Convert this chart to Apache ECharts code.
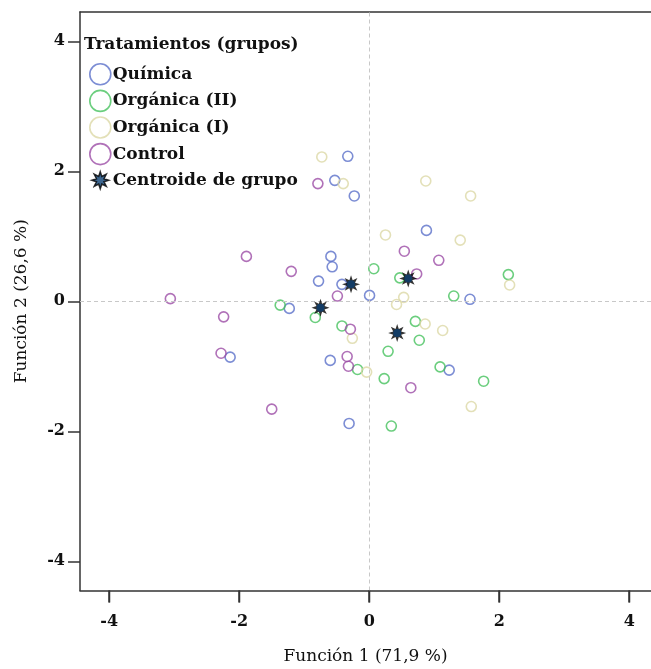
<!DOCTYPE html>
<html>
<head>
<meta charset="utf-8">
<script src="https://cdn.jsdelivr.net/npm/echarts@6/dist/echarts.min.js"></script>
<style>html,body{margin:0;padding:0;background:#fff}#c{width:651px;height:669px}</style>
</head>
<body>
<div id="c"></div>
<script>
const groupNames = ['Química', 'Orgánica (II)', 'Orgánica (I)', 'Control'];
const centroidName = 'Centroide de grupo';
const legendTitle = 'Tratamientos (grupos)';
const xAxisTitle = 'Función 1 (71,9 %)';
const yAxisTitle = 'Función 2 (26,6 %)';
const axisTicks = [-4, -2, 0, 2, 4];

const quimica = [[-0.33,2.23],[-0.53,1.86],[-0.23,1.62],[0.88,1.09],[-0.59,0.69],[-0.57,0.53],[-0.78,0.31],[-0.42,0.26],[0.005,0.09],[-1.23,-0.11],[1.55,0.03],[-0.60,-0.91],[1.23,-1.06],[-2.14,-0.86],[-0.31,-1.88]];
const organica2 = [[0.07,0.50],[-1.37,-0.06],[-0.83,-0.25],[-0.42,-0.38],[0.47,0.36],[2.14,0.41],[1.30,0.08],[0.71,-0.31],[0.77,-0.60],[0.29,-0.77],[-0.18,-1.05],[0.23,-1.19],[1.09,-1.01],[1.76,-1.23],[0.34,-1.92]];
const organica1 = [[-0.73,2.22],[-0.40,1.81],[0.25,1.02],[0.87,1.85],[1.56,1.62],[1.40,0.94],[2.16,0.25],[0.53,0.06],[0.42,-0.05],[0.86,-0.35],[1.13,-0.45],[-0.26,-0.57],[-0.04,-1.09],[1.57,-1.62]];
const control = [[-0.79,1.81],[-1.89,0.69],[-1.20,0.46],[-0.49,0.08],[-3.06,0.04],[-2.24,-0.24],[-0.29,-0.43],[0.54,0.77],[1.07,0.63],[0.73,0.42],[-2.28,-0.80],[-1.50,-1.66],[-0.34,-0.85],[-0.32,-1.00],[0.64,-1.33]];
const centroids = [[-0.28,0.26],[0.43,-0.49],[0.60,0.35],[-0.75,-0.10]];

const groupData = [quimica, organica2, organica1, control];
const colors = ['#5b70c9', '#46c25e', '#dcd8a6', '#9c4ea6'];
const FONT = 'DejaVu Serif';

function starPath(n, r1, r2) {
  let d = '';
  for (let i = 0; i < 2 * n; i++) {
    const r = i % 2 === 0 ? r1 : r2;
    const a = Math.PI * i / n - Math.PI / 2;
    const x = (50 + r * Math.cos(a)).toFixed(2), y = (50 + r * Math.sin(a)).toFixed(2);
    d += (i === 0 ? 'M' : 'L') + x + ' ' + y + ' ';
  }
  return 'path://' + d + 'Z';
}
const STAR = starPath(8, 50, 24);

const series = groupNames.map((n, i) => ({
  name: n, type: 'scatter', data: groupData[i], symbol: 'circle', symbolSize: 10,
  itemStyle: { color: 'rgba(255,255,255,0)', borderColor: colors[i], borderWidth: 1.6 },
  z: 2
}));
series.push({
  name: centroidName, type: 'scatter', data: centroids, symbol: STAR, symbolSize: 18,
  itemStyle: { color: '#000', borderWidth: 0 }, z: 5
});
series.push({
  name: centroidName, type: 'scatter', data: centroids, symbol: 'circle', symbolSize: 8,
  itemStyle: { color: '#0b3f72', borderWidth: 0 }, z: 6
});
series.push({
  type: 'scatter', data: [], silent: true,
  markLine: {
    silent: true, symbol: 'none', label: { show: false },
    lineStyle: { color: '#c8c8c8', type: [4, 3], width: 1 },
    data: [{ xAxis: 0 }, { yAxis: 0 }]
  }, z: 1
});

const XMIN = -4.45, XMAX = 4.335, YMIN = -4.45, YMAX = 4.45;
const ls = () => ({ color: '#333', width: 1.5 });
const labelStyle = () => ({ color: '#111', fontFamily: FONT, fontWeight: 'bold', fontSize: 16,
  customValues: axisTicks.slice() });

const chart = echarts.init(document.getElementById('c'));
chart.setOption({
  animation: false,
  backgroundColor: '#fff',
  grid: { left: 80, top: 12, right: 0, bottom: 78.5, show: false, outerBoundsMode: 'none' },
  title: { text: legendTitle, left: 79, top: 31, textStyle: { fontFamily: FONT, fontWeight: 'bold', fontSize: 17, color: '#111' } },
  legend: [{
    orient: 'vertical', left: 84, top: 58, itemWidth: 21, itemHeight: 21, itemGap: 4,
    textStyle: { fontFamily: FONT, fontWeight: 'bold', fontSize: 17, color: '#111', padding: [0, 0, 0, -3] },
    data: groupNames.map((n, i) => ({ name: n, icon: 'circle', itemStyle: { color: 'rgba(255,255,255,0)', borderColor: colors[i], borderWidth: 1.6 } }))
  }, {
    orient: 'vertical', left: 86, top: 166, itemWidth: 17, itemHeight: 17, itemGap: 5,
    textStyle: { fontFamily: FONT, fontWeight: 'bold', fontSize: 17, color: '#111', padding: [0, 0, 0, -1] },
    data: [{ name: centroidName, icon: STAR, itemStyle: { color: '#0b3f72', borderColor: '#000', borderWidth: 1.5 } }]
  }],
  xAxis: [{
    type: 'value', min: XMIN, max: XMAX, position: 'bottom',
    axisLine: { show: true, onZero: false, lineStyle: ls() },
    axisTick: { show: true, length: 12, lineStyle: ls(), customValues: axisTicks.slice() },
    axisLabel: Object.assign({ margin: 23 }, labelStyle()),
    splitLine: { show: false },
    name: xAxisTitle, nameLocation: 'middle', nameGap: 58,
    nameTextStyle: { fontFamily: FONT, fontSize: 17, color: '#111' }
  }, {
    type: 'value', min: XMIN, max: XMAX, position: 'top',
    axisLine: { show: true, onZero: false, lineStyle: ls() },
    axisTick: { show: false }, axisLabel: { show: false }, splitLine: { show: false }
  }],
  yAxis: {
    type: 'value', min: YMIN, max: YMAX,
    axisLine: { show: true, onZero: false, lineStyle: ls() },
    axisTick: { show: true, length: 12, lineStyle: ls(), customValues: axisTicks.slice() },
    axisLabel: Object.assign({ margin: 15 }, labelStyle()),
    splitLine: { show: false },
    name: yAxisTitle, nameLocation: 'middle', nameGap: 50,
    nameTextStyle: { fontFamily: FONT, fontSize: 17, color: '#111' }
  },
  series: series
});

// x-axis tick marks positioned through the axis scale, on their own layer
const yBottom = chart.convertToPixel({ yAxisIndex: 0 }, YMIN);
chart.setOption({
  graphic: axisTicks.map(v => {
    const px = Math.round(chart.convertToPixel({ xAxisIndex: 0 }, v)) + 0.5;
    return { type: 'line', silent: true, zlevel: 3, z: 100,
      shape: { x1: px, y1: yBottom, x2: px, y2: yBottom + 12 },
      style: { stroke: '#333', lineWidth: 1.5 } };
  })
});
</script>
</body>
</html>
